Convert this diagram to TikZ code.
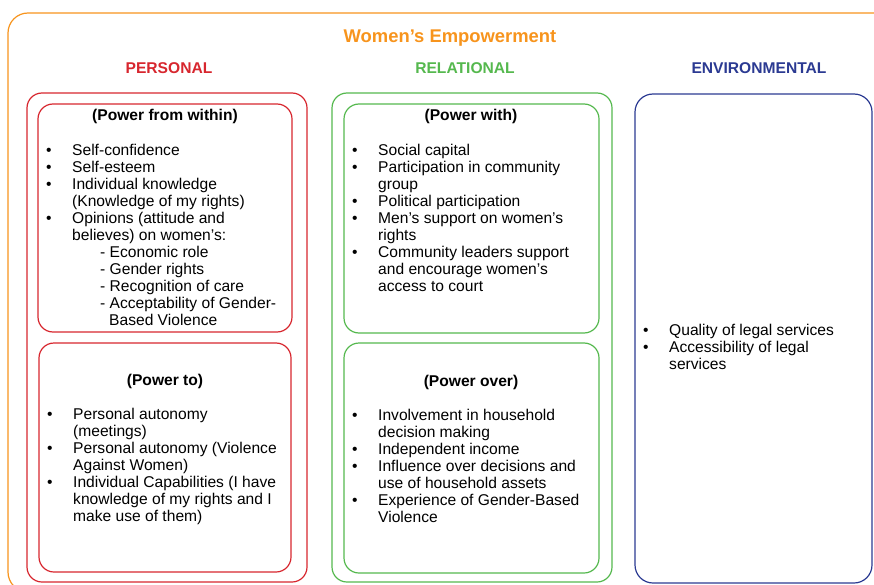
\documentclass[tikz,border=0pt]{standalone}
\usepackage{fontspec}
\setmainfont{Liberation Sans}
\definecolor{empOrange}{HTML}{F7941D}
\definecolor{persRed}{HTML}{D7262E}
\definecolor{relGreen}{HTML}{55B84E}
\definecolor{envBlue}{HTML}{2B3A92}
% bullet with hanging indent, and plain indent for follow-on lines
\newcommand{\bul}{\makebox[26pt][l]{\textbullet}}
\newcommand{\ind}[1][26pt]{\hspace*{#1}}

\begin{document}
\begin{tikzpicture}[x=1pt, y=-1pt]
        \tikzstyle{boxframe} = [draw, rounded corners=15pt, line width=1.2pt, inner sep=0pt, outer sep=0pt]
        % lists are placed by the baseline of their last line
        \tikzstyle{listtext} = [align=left, inner sep=0pt, anchor=base west, font=\fontsize{15.6}{17}\selectfont]
        \tikzstyle{subhead} = [inner sep=0pt, anchor=base, font=\bfseries\fontsize{15.6}{17}\selectfont]
        \tikzstyle{colhead} = [inner sep=0pt, anchor=base, font=\bfseries\fontsize{15.6}{17}\selectfont]
        \useasboundingbox (0,0) rectangle (874,585);

        \node[boxframe, draw=empOrange, rounded corners=20pt, minimum width=887pt, minimum height=579pt] (frame) at (451.5,302.5) {};
        \node[colhead, text=empOrange, font=\bfseries\fontsize{18.4}{20}\selectfont] (title) at (450,43) {Women’s Empowerment};
        \node[colhead, text=persRed] (personalhead) at (169,74) {PERSONAL};
        \node[colhead, text=relGreen] (relationalhead) at (465,74) {RELATIONAL};
        \node[colhead, text=envBlue] (environmentalhead) at (759,74) {ENVIRONMENTAL};

        % personal column
        \node[boxframe, draw=persRed, minimum width=280pt, minimum height=489pt] (personal) at (167,337.5) {};
        \node[boxframe, draw=persRed, minimum width=254pt, minimum height=228pt] (within) at (165,218) {};
        \node[boxframe, draw=persRed, minimum width=252pt, minimum height=229pt] (to) at (165,457.5) {};
        \node[subhead] (withinhead) at (165,121) {(Power from within)};
        \node[listtext] (withinlist) at (46,325) {\bul Self-confidence\\
                \bul Self-esteem\\
                \bul Individual knowledge\\
                \ind (Knowledge of my rights)\\
                \bul Opinions (attitude and\\
                \ind believes) on women’s:\\
                \ind[54pt]- Economic role\\
                \ind[54pt]- Gender rights\\
                \ind[54pt]- Recognition of care\\
                \ind[54pt]- Acceptability of Gender-\\
                \ind[63pt]Based Violence};
        \node[subhead] (tohead) at (165,385) {(Power to)};
        \node[listtext] (tolist) at (47,521) {\bul Personal autonomy\\
                \ind (meetings)\\
                \bul Personal autonomy (Violence\\
                \ind Against Women)\\
                \bul Individual Capabilities (I have\\
                \ind knowledge of my rights and I\\
                \ind make use of them)};

        % relational column
        \node[boxframe, draw=relGreen, minimum width=280pt, minimum height=489pt] (relational) at (472,337.5) {};
        \node[boxframe, draw=relGreen, minimum width=255pt, minimum height=229pt] (with) at (471.5,218.5) {};
        \node[boxframe, draw=relGreen, minimum width=255pt, minimum height=230pt] (over) at (471.5,458) {};
        \node[subhead] (withhead) at (471,121) {(Power with)};
        \node[listtext] (withlist) at (352,291) {\bul Social capital\\
                \bul Participation in community\\
                \ind group\\
                \bul Political participation\\
                \bul Men’s support on women’s\\
                \ind rights\\
                \bul Community leaders support\\
                \ind and encourage women’s\\
                \ind access to court};
        \node[subhead] (overhead) at (471,386) {(Power over)};
        \node[listtext] (overlist) at (352,522) {\bul Involvement in household\\
                \ind decision making\\
                \bul Independent income\\
                \bul Influence over decisions and\\
                \ind use of household assets\\
                \bul Experience of Gender-Based\\
                \ind Violence};

        % environmental column
        \node[boxframe, draw=envBlue, rounded corners=18pt, minimum width=237pt, minimum height=489pt] (environmental) at (753.5,338.5) {};
        \node[listtext] (envlist) at (643,369) {\bul Quality of legal services\\
                \bul Accessibility of legal\\
                \ind services};
\end{tikzpicture}
\end{document}
